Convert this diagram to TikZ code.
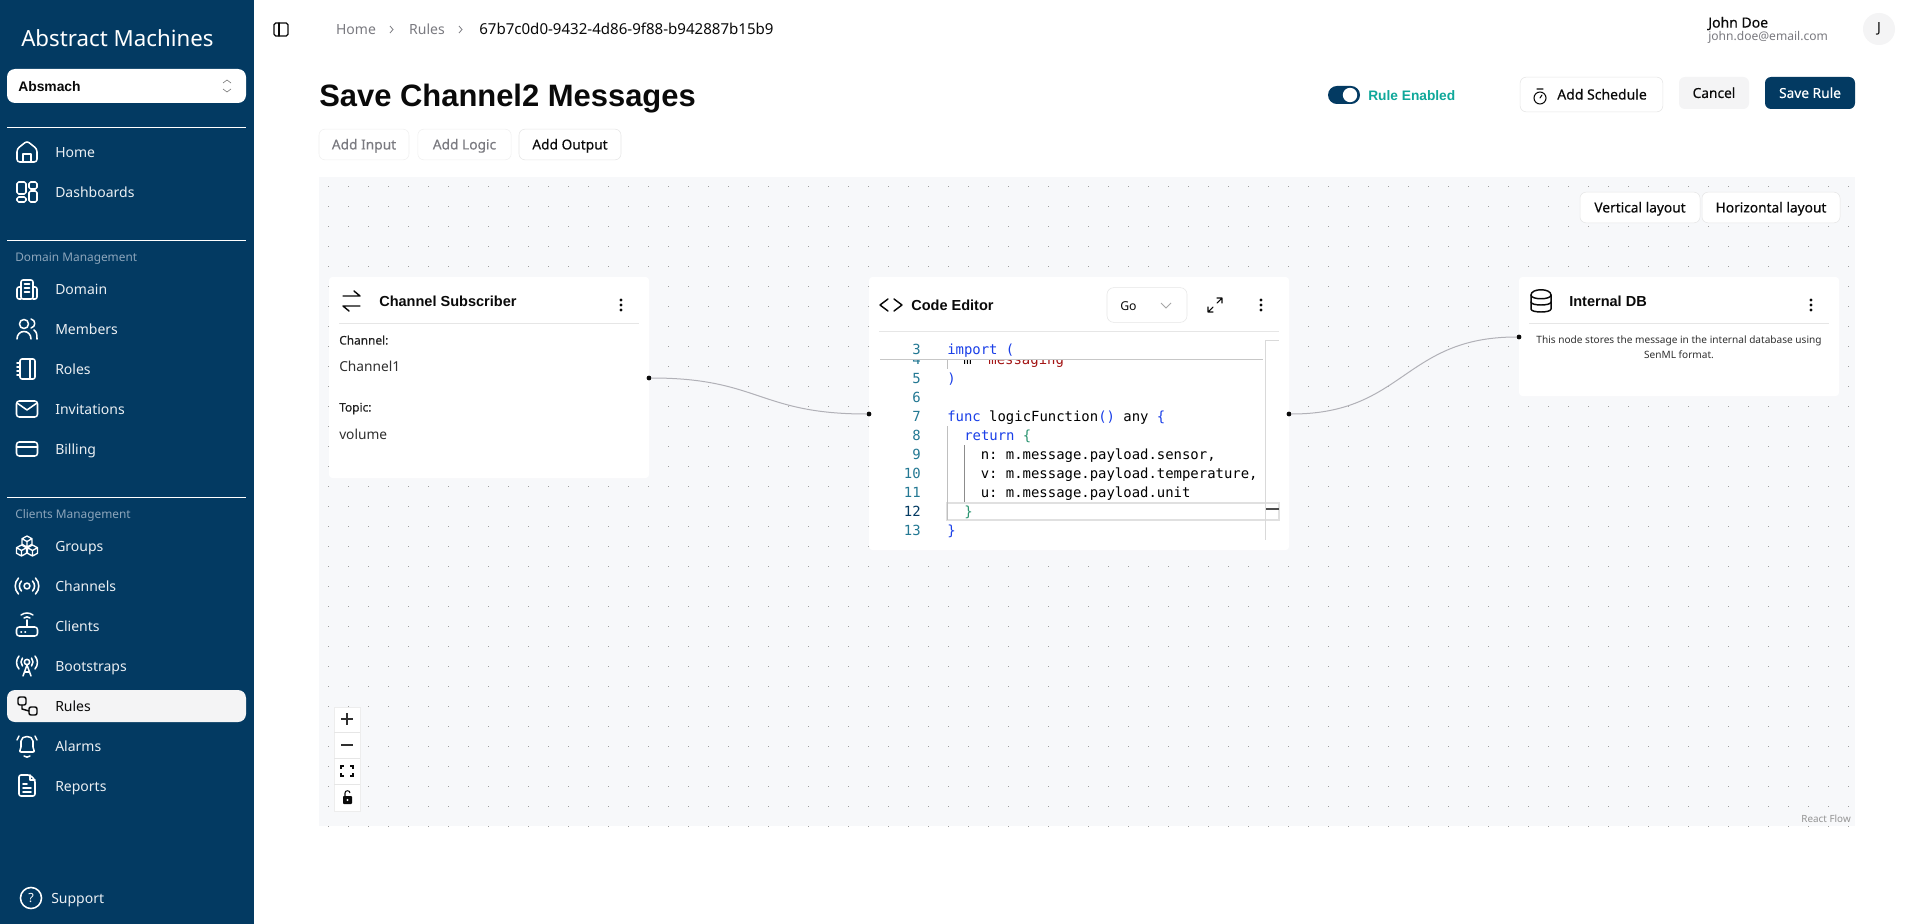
\documentclass[tikz,border=0pt]{standalone}
\usepackage{fontspec}
\setmainfont{Noto Sans}[BoldFont={Liberation Sans Bold}]
\setmonofont{DejaVu Sans Mono}
\newfontfamily\medfont{Noto Sans}[FakeBold=0.3]
\definecolor{navy}{HTML}{033A62}
\definecolor{navgray}{HTML}{8CA5BB}
\definecolor{pane}{HTML}{F7F8FA}
\definecolor{edge}{HTML}{E6E6E6}
\definecolor{softgray}{HTML}{F4F4F5}
\definecolor{mutedtxt}{HTML}{7A7A80}
\definecolor{teal}{HTML}{0FA89A}
\definecolor{kw}{HTML}{1A3FE8}
\definecolor{lnum}{HTML}{237893}
\definecolor{strred}{HTML}{A31515}
\definecolor{brgreen}{HTML}{2A9470}
\definecolor{wire}{HTML}{B1B1B7}
\definecolor{ink}{HTML}{0A0A0A}
\tikzset{
  x=0.75pt, y=-0.75pt,
  txt/.style={inner sep=0pt, text height=10.5pt, text depth=2.2pt},
  navlabel/.style={txt, anchor=west, text=white!92!navy, font=\fontsize{10.5}{12}\selectfont},
  navhead/.style={txt, anchor=west, text=navgray, font=\fontsize{8.9}{10}\selectfont},
  navicon/.style={draw=white, line width=1.15pt, line cap=round, line join=round},
  darkicon/.style={draw=ink, line width=1.1pt, line cap=round, line join=round},
  sepline/.style={draw=white, line width=0.6pt},
  cardbox/.style={fill=white, rounded corners=2.5pt},
  cardhead/.style={txt, anchor=west, text=ink, font=\fontsize{10.9}{12}\bfseries\selectfont},
  cardsmall/.style={txt, anchor=west, text=ink!90, font=\medfont\fontsize{8.9}{10}\selectfont},
  cardvalue/.style={txt, anchor=west, text=ink!85, font=\fontsize{10.3}{12}\selectfont},
  topbtn/.style={draw=edge, fill=white, rounded corners=4.5pt, inner sep=0pt, text=ink, text height=9.6pt, text depth=2.2pt, font=\medfont\fontsize{10.3}{12}\selectfont},
  handle/.style={circle, fill=ink, inner sep=0pt, minimum size=3.6pt},
  wireline/.style={draw=wire, line width=0.75pt},
  codeline/.style={anchor=base west, inner sep=0pt, font=\fontsize{10.45}{12}\ttfamily},
  codenum/.style={anchor=base east, inner sep=0pt, text=lnum, font=\fontsize{10.45}{12}\ttfamily},
}
\newcommand{\kebab}[2]{\fill[ink] (#1,#2-5) circle (1.2pt) (#1,#2) circle (1.2pt) (#1,#2+5) circle (1.2pt);}
\begin{document}
\begin{tikzpicture}
\useasboundingbox (0,0) rectangle (1917,924);
\fill[white] (0,0) rectangle (1917,924);

\fill[navy] (0,0) rectangle (254,924);
\node[txt, anchor=west, text=white, font=\fontsize{16.7}{20}\selectfont] (logo) at (21,41) {Abstract Machines};
\node[fill=white, rounded corners=6pt, minimum width=179.25pt, minimum height=25.5pt, inner sep=0pt] (org) at (126.5,86) {};
\node[txt, anchor=west, text=ink, font=\fontsize{10.4}{12}\bfseries\selectfont] (orgname) at (18,86) {Absmach};
\draw[gray, line width=0.5pt] (223,83) -- (227,80) -- (231,83) (223,89) -- (227,92) -- (231,89);
\draw[sepline] (7,127) -- (246,127);
\draw[sepline] (7,240) -- (246,240);
\draw[sepline] (7,497) -- (246,497);
\node[navhead] (headdomain) at (15,256) {Domain Management};
\node[navhead] (headclients) at (15,513) {Clients Management};
\fill[softgray, rounded corners=6pt] (7,690) rectangle (246,722);
\foreach \y/\name in {152/Home,192/Dashboards,289/Domain,329/Members,369/Roles,409/Invitations,449/Billing,546/Groups,586/Channels,626/Clients,666/Bootstraps,746/Alarms,786/Reports}
  \node[navlabel] (nav\name) at (55,\y) {\name};
\node[navlabel, text=ink] (navRules) at (55,706) {Rules};
\node[navlabel] (navSupport) at (51,898) {Support};

\begin{scope}[shift={(27,152)}]
\draw[navicon, rounded corners=2pt] (-10,-3) -- (0,-11) -- (10,-3) -- (10,10) -- (-10,10) -- cycle;
\draw[navicon] (-4,10) -- (-4,2) -- (4,2) -- (4,10);
\end{scope}
\begin{scope}[shift={(27,192)}]
\draw[navicon, rounded corners=1.2pt] (-10,-10) rectangle (-1,2) (2,-10) rectangle (10,-3) (-10,5) rectangle (-1,10) (2,-1) rectangle (10,10);
\end{scope}
\begin{scope}[shift={(27,289)}]
\draw[navicon, rounded corners=1.5pt] (-6,10) -- (-6,-9) -- (6,-9) -- (6,10) -- cycle (-6,-2) -- (-10,-2) -- (-10,10) -- (-6,10) (6,-2) -- (10,-2) -- (10,10) -- (6,10);
\draw[navicon] (-2.5,-5) -- (2.5,-5) (-2.5,-1) -- (2.5,-1) (-2.5,3) -- (2.5,3);
\end{scope}
\begin{scope}[shift={(27,329)}]
\draw[navicon] (-3,-5) circle (3.4pt);
\draw[navicon] (-10,10) .. controls (-10,0) and (4,0) .. (4,10);
\draw[navicon] (4,-10) .. controls (9,-9) and (9,-2) .. (4,-1);
\draw[navicon] (7,1) .. controls (10,3) and (10,6) .. (10,10);
\end{scope}
\begin{scope}[shift={(27,369)}]
\draw[navicon, rounded corners=1.5pt] (-7,-10) rectangle (8,10);
\draw[navicon] (3,-10) -- (3,10) (-10,-6) -- (-7,-6) (-10,-2) -- (-7,-2) (-10,2) -- (-7,2) (-10,6) -- (-7,6);
\end{scope}
\begin{scope}[shift={(27,409)}]
\draw[navicon, rounded corners=2pt] (-10.5,-8) rectangle (10.5,8);
\draw[navicon] (-10,-6) -- (0,1) -- (10,-6);
\end{scope}
\begin{scope}[shift={(27,449)}]
\draw[navicon, rounded corners=2pt] (-10.5,-7) rectangle (10.5,7);
\draw[navicon] (-10.5,-2) -- (10.5,-2);
\end{scope}
\begin{scope}[shift={(27,546)}]
\foreach \cx/\cy in {0/-4.5,-5.5/4.5,5.5/4.5}
  \draw[navicon, line width=1pt] (\cx,\cy-5.5) -- (\cx+5,\cy-2.8) -- (\cx+5,\cy+2.8) -- (\cx,\cy+5.5) -- (\cx-5,\cy+2.8) -- (\cx-5,\cy-2.8) -- cycle (\cx,\cy) -- (\cx,\cy+5.5) (\cx,\cy) -- (\cx+5,\cy-2.8) (\cx,\cy) -- (\cx-5,\cy-2.8);
\end{scope}
\begin{scope}[shift={(27,586)}]
\draw[navicon] (0,0) circle (2.2pt);
\draw[navicon] (-5.5,-5) to[bend right=45] (-5.5,5) (5.5,-5) to[bend left=45] (5.5,5);
\draw[navicon] (-8.5,-8) to[bend right=45] (-8.5,8) (8.5,-8) to[bend left=45] (8.5,8);
\end{scope}
\begin{scope}[shift={(27,626)}]
\draw[navicon, rounded corners=2pt] (-10.5,1) rectangle (10.5,10);
\draw[navicon] (0,1) -- (0,-6) (-3,-8) to[bend left=40] (3,-8) (-6,-11) to[bend left=35] (6,-11) (-6,6) -- (-5.5,6) (-2,6) -- (-1.5,6);
\end{scope}
\begin{scope}[shift={(27,666)}]
\draw[navicon] (0,-4) circle (2pt);
\draw[navicon] (-4.5,-8) to[bend right=40] (-4.5,0) (4.5,-8) to[bend left=40] (4.5,0);
\draw[navicon] (-8,-10) to[bend right=40] (-8,3) (8,-10) to[bend left=40] (8,3);
\draw[navicon] (-4,10) -- (0,-1) -- (4,10) (-2.5,6) -- (2.5,6);
\end{scope}
\begin{scope}[shift={(27,706)}]
\draw[darkicon, rounded corners=1.5pt] (-9,-9) rectangle (-1,-1) (2,1) rectangle (10,9);
\draw[darkicon] (-5,-1) -- (-5,3) -- (2,5);
\end{scope}
\begin{scope}[shift={(27,746)}]
\draw[navicon, rounded corners=1.5pt] (-8,6) -- (-6,3) -- (-6,-3) .. controls (-6,-11) and (6,-11) .. (6,-3) -- (6,3) -- (8,6) -- cycle;
\draw[navicon] (-3,10) to[bend right=40] (3,10) (-10,-6) -- (-8,-10) (10,-6) -- (8,-10);
\end{scope}
\begin{scope}[shift={(27,786)}]
\draw[navicon, rounded corners=1.5pt] (-8,-11) -- (3,-11) -- (8,-6) -- (8,10) -- (-8,10) -- cycle;
\draw[navicon] (3,-11) -- (3,-6) -- (8,-6) (-4,-2) -- (0,-2) (-4,2) -- (4,2) (-4,6) -- (4,6);
\end{scope}
\node[circle, draw=white, line width=1.15pt, minimum size=15.8pt, inner sep=0pt, text=white, font=\fontsize{9.5}{11}\selectfont] (helpicon) at (31,898) {?};

\draw[darkicon, line width=0.9pt, rounded corners=1.3pt] (274,23) rectangle (288,36);
\draw[darkicon, line width=0.9pt] (279,23) -- (279,36);
\node[txt, text=mutedtxt, font=\fontsize{10.5}{12}\selectfont] (crumbhome) at (356,29) {Home};
\draw[mutedtxt, line width=0.6pt] (390,26) -- (393,29.5) -- (390,33);
\node[txt, text=mutedtxt, font=\fontsize{10.5}{12}\selectfont] (crumbrules) at (427,29) {Rules};
\draw[mutedtxt, line width=0.6pt] (459,26) -- (462,29.5) -- (459,33);
\node[txt, anchor=west, text=ink, font=\fontsize{11.3}{12}\selectfont] (crumbid) at (479,29) {67b7c0d0-9432-4d86-9f88-b942887b15b9};
\node[txt, anchor=west, text=ink, font=\fontsize{23.2}{26}\bfseries\selectfont, text height=19.6pt, text depth=5pt] (title) at (319,97) {Save Channel2 Messages};
\node[topbtn, draw=edge!60, text=mutedtxt, minimum width=67.5pt, minimum height=23pt] (addinput) at (364,144.5) {Add Input};
\node[topbtn, draw=edge!60, text=mutedtxt, minimum width=70pt, minimum height=23pt] (addlogic) at (464.5,144.5) {Add Logic};
\node[topbtn, minimum width=76.5pt, minimum height=23pt] (addoutput) at (570,144.5) {Add Output};

\node[txt, anchor=west, text=ink, font=\medfont\fontsize{10.5}{12}\selectfont] (username) at (1708,22) {John Doe};
\node[txt, anchor=west, text=mutedtxt, font=\fontsize{9.05}{11}\selectfont] (usermail) at (1708,35) {john.doe@email.com};
\node[circle, fill=softgray, minimum size=24pt, inner sep=0pt, text=ink, font=\fontsize{10.5}{12}\selectfont] (avatar) at (1879,29) {J};
\fill[navy, rounded corners=6.7pt] (1328,86) rectangle (1360,104);
\fill[white] (1350,95) circle (5.4pt);
\node[txt, anchor=west, text=teal, font=\fontsize{10.3}{12}\bfseries\selectfont] (ruleon) at (1368,95) {Rule Enabled};
\node[topbtn, minimum width=107pt, minimum height=26pt] (schedule) at (1591.5,94.5) {};
\node[txt, anchor=west, text=ink, font=\medfont\fontsize{10.5}{12}\selectfont] (schedtxt) at (1557,94) {Add Schedule};
\draw[darkicon, line width=0.8pt] (1540,98) circle (4.5pt) (1537,89) -- (1543,89) (1540,98) -- (1542,95);
\node[topbtn, draw=none, fill=softgray, minimum width=52.5pt, minimum height=24pt] (cancel) at (1714,93) {Cancel};
\node[topbtn, draw=none, fill=navy, text=white, minimum width=67.5pt, minimum height=24pt] (saverule) at (1810,93) {Save Rule};

\fill[pane] (319,177) rectangle (1855,826);
\foreach \gy in {186,206,...,826}
  \foreach \gx in {328,348,...,1852}
    \fill[gray!75] (\gx-0.5,\gy-0.5) rectangle (\gx+0.5,\gy+0.5);

\node[topbtn, draw=edge, minimum width=90pt, minimum height=23pt] (vertical) at (1640,207.5) {Vertical layout};
\node[topbtn, draw=edge, minimum width=103.5pt, minimum height=23pt] (horizontal) at (1771,207.5) {Horizontal layout};

\fill[cardbox] (329,277) rectangle (649,478);
\draw[darkicon] (343,296) -- (360,296) -- (354,291) (360,306) -- (343,306) -- (349,311);
\node[cardhead] (subhead) at (379,301) {Channel Subscriber};
\kebab{621}{305}
\draw[edge] (339,323) -- (639,323);
\node[cardsmall] (chanlabel) at (339,339) {Channel:};
\node[cardvalue] (chanvalue) at (339,366) {Channel1};
\node[cardsmall] (topiclabel) at (339,406) {Topic:};
\node[cardvalue] (topicvalue) at (339,434) {volume};

\fill[cardbox] (869,277) rectangle (1289,550);
\draw[darkicon] (888,299) -- (880,305) -- (888,311) (894,299) -- (902,305) -- (894,311);
\node[cardhead] (codehead) at (911,305) {Code Editor};
\node[draw=edge, fill=white, rounded corners=5pt, minimum width=60pt, minimum height=26pt, inner sep=0pt] (langbox) at (1147,305) {};
\node[txt, anchor=west, text=ink, font=\fontsize{9.2}{11}\selectfont] (langname) at (1120,305) {Go};
\draw[gray!70, line width=0.6pt] (1161,303) -- (1166,308) -- (1171,303);
\draw[darkicon, line width=0.8pt] (1208,312) -- (1213,307) (1217,303) -- (1222,298) (1217,298) -- (1222,298) -- (1222,303) (1208,307) -- (1208,312) -- (1213,312);
\kebab{1261}{305}
\draw[edge] (879,331) -- (1279,331);

\draw[black!12, line width=1.3pt] (947,503) rectangle (1279,520);
\draw[black!15] (1265,340) -- (1265,540) (1265,340) -- (1279,340);
\draw[black!70, line width=1.2pt] (1266,509) -- (1279,509);
\draw[black!25] (947,360) -- (947,369) (947,426) -- (947,520);
\draw[black!45] (964,445) -- (964,502);
\begin{scope}
\clip (870,360) rectangle (1264,380);
\node[codenum] (num4) at (921,364) {4};
\node[codeline] (code4) at (963,364) {m \textcolor{strred}{"messaging"}};
\end{scope}
\draw[black!22, line width=1pt] (880,359.5) -- (1263,359.5);
\foreach \y/\n in {354/3,383/5,402/6,421/7,440/8,459/9,478/10,497/11,535/13}
  \node[codenum] (num\n) at (921,\y) {\n};
\node[codenum, text=navy] (num12) at (921,516) {12};
\node[codeline] (code3) at (947,354) {\textcolor{kw}{import (}};
\node[codeline, text=kw] (code5) at (947,383) {)};
\node[codeline] (code7) at (947,421) {\textcolor{kw}{func} logicFunction\textcolor{kw}{()} any \textcolor{kw}{\{}};
\node[codeline] (code8) at (964,440) {\textcolor{kw}{return} \textcolor{brgreen}{\{}};
\node[codeline] (code9) at (980.5,459) {n: m.message.payload.sensor,};
\node[codeline] (code10) at (980.5,478) {v: m.message.payload.temperature,};
\node[codeline] (code11) at (980.5,497) {u: m.message.payload.unit};
\node[codeline, text=brgreen] (code12) at (964,516) {\}};
\node[codeline, text=kw] (code13) at (947,535) {\}};

\fill[cardbox] (1519,277) rectangle (1839,396);
\draw[darkicon] (1531,295) .. controls (1531,288) and (1551,288) .. (1551,295) -- (1551,309) .. controls (1551,313) and (1531,313) .. (1531,309) -- cycle;
\draw[darkicon] (1531,295) .. controls (1531,300) and (1551,300) .. (1551,295) (1531,302) .. controls (1531,306) and (1551,306) .. (1551,302);
\node[cardhead] (dbhead) at (1569,301) {Internal DB};
\kebab{1811}{305}
\draw[edge] (1529,323) -- (1829,323);
\node[inner sep=0pt, align=center, text=ink!85, font=\fontsize{7.57}{11.2}\selectfont] (dbnote) at (1679,347) {This node stores the message in the internal database using\\SenML format.};

\node[handle] (subout) at (649,378) {};
\node[handle] (codein) at (869,414) {};
\node[handle] (codeout) at (1289,414) {};
\node[handle] (dbin) at (1519,337) {};
\draw[wireline] (subout) .. controls (759,378) and (759,414) .. (codein);
\draw[wireline] (codeout) .. controls (1404,414) and (1404,337) .. (dbin);

\fill[white] (334,707) rectangle (360,811);
\draw[edge!70] (334,707) rectangle (360,811);
\draw[edge] (334,732.5) -- (360,732.5) (334,758.5) -- (360,758.5) (334,784.5) -- (360,784.5);
\draw[ink!85, line width=0.9pt] (341,719) -- (353,719) (347,713) -- (347,725);
\draw[ink!85, line width=0.9pt] (341,745) -- (353,745);
\draw[ink, line width=0.8pt] (341,769) -- (341,766) -- (344,766) (350,766) -- (353,766) -- (353,769) (353,773) -- (353,776) -- (350,776) (344,776) -- (341,776) -- (341,773);
\fill[ink, rounded corners=0.6pt] (343,796) rectangle (352,804);
\draw[ink, line width=0.8pt] (345,796) -- (345,793) .. controls (345,790) and (350,790) .. (350,793);
\fill[white] (347.5,800) circle (0.9pt);

\node[txt, anchor=east, text=gray!85, font=\fontsize{7.4}{9}\selectfont] (attribution) at (1851,817) {React Flow};
\end{tikzpicture}
\end{document}
